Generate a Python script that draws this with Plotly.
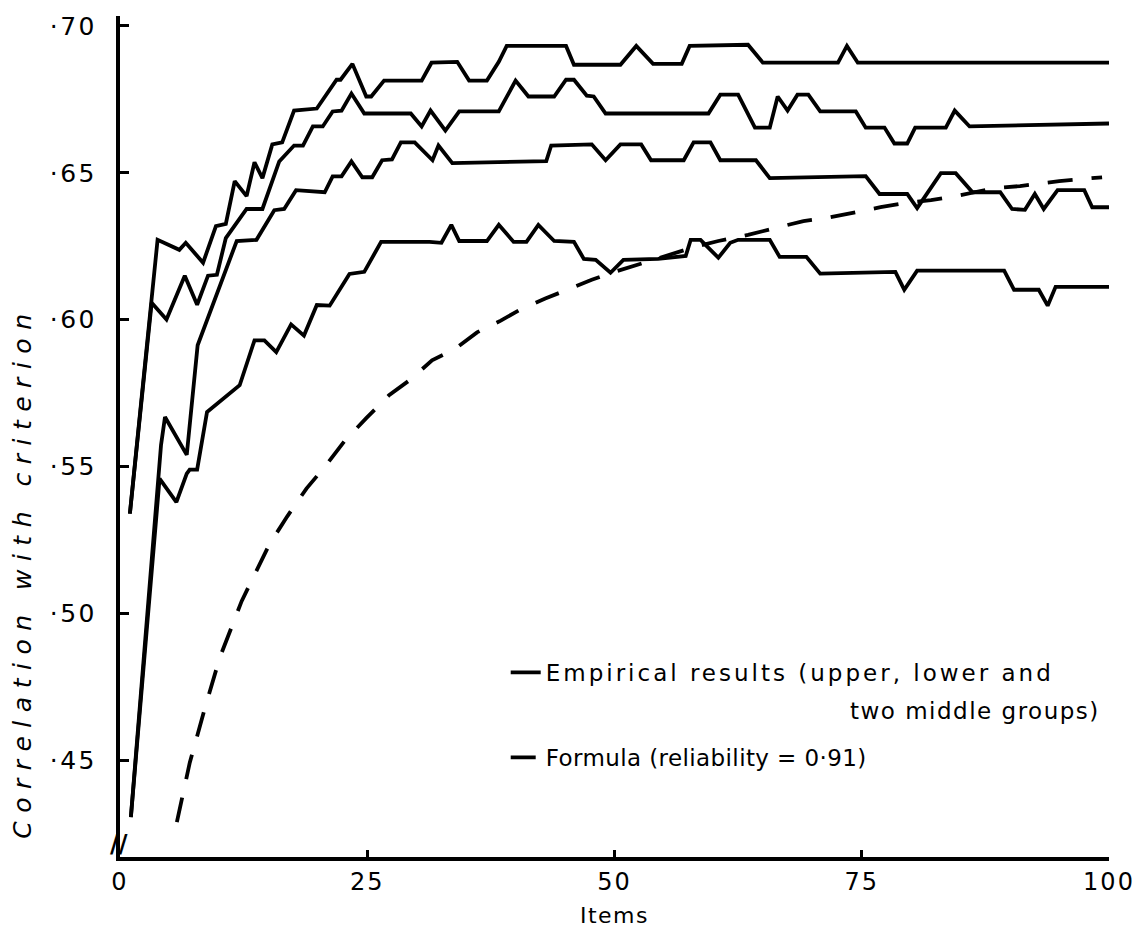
import plotly.graph_objects as go

# ---------------- data ----------------
upper_x = [1.0, 3.8, 6.0, 6.65, 8.4, 9.7, 10.7, 11.6, 12.8, 13.6, 14.4, 15.4, 16.4, 17.6, 19.9,
           21.9, 22.3, 23.5, 24.9, 25.4, 26.7, 30.5, 31.5, 34.1, 35.3, 37.1, 38.3, 39.1, 45.1,
           45.9, 50.6, 52.2, 53.9, 56.8, 57.6, 63.5, 65.0, 72.6, 73.5, 74.6, 100]
upper_y = [0.534, 0.6272, 0.6238, 0.6262, 0.6194, 0.6319, 0.6326, 0.6472, 0.6421, 0.6536, 0.6482,
           0.6597, 0.6604, 0.6712, 0.6719, 0.6817, 0.6817, 0.6871, 0.676, 0.676, 0.6814, 0.6814,
           0.6875, 0.6878, 0.6814, 0.6814, 0.6878, 0.6932, 0.6932, 0.6868, 0.6868, 0.6932, 0.6871,
           0.6871, 0.6932, 0.6936, 0.6875, 0.6875, 0.6932, 0.6875, 0.6875]

mid1_x = [1.0, 3.2, 4.7, 6.55, 7.8, 8.9, 9.8, 10.7, 12.8, 14.4, 16.1, 17.6, 18.5, 19.5, 20.5,
          21.5, 22.4, 23.4, 24.7, 29.4, 30.5, 31.4, 32.9, 34.3, 38.3, 40.0, 41.3, 43.9, 45.1,
          45.9, 47.2, 47.9, 49.1, 59.5, 60.7, 62.5, 64.2, 65.7, 66.5, 67.5, 68.5, 69.6, 70.8,
          74.4, 75.4, 77.3, 78.3, 79.6, 80.4, 83.5, 84.4, 85.9, 100]
mid1_y = [0.534, 0.6058, 0.6001, 0.615, 0.6051, 0.615, 0.6153, 0.6278, 0.6377, 0.6377, 0.6539,
          0.6593, 0.6593, 0.6658, 0.6658, 0.6709, 0.6712, 0.677, 0.6702, 0.6702, 0.6658, 0.6712,
          0.6644, 0.6709, 0.6709, 0.6814, 0.676, 0.676, 0.6817, 0.6817, 0.6763, 0.676, 0.6702,
          0.6702, 0.6766, 0.6766, 0.6654, 0.6654, 0.676, 0.6712, 0.6766, 0.6766, 0.6709, 0.6709,
          0.6654, 0.6654, 0.66, 0.66, 0.6654, 0.6654, 0.6712, 0.6658, 0.6668]

mid2_x = [1.1, 4.15, 4.55, 6.75, 7.85, 11.8, 13.8, 15.6, 16.6, 17.8, 20.7, 21.5, 22.4, 23.4,
          24.5, 25.5, 26.5, 27.5, 28.4, 29.8, 31.6, 32.2, 33.6, 43.1, 43.6, 47.7, 49.1, 50.6,
          52.7, 53.7, 57.0, 58.0, 59.7, 60.7, 64.3, 65.7, 75.4, 76.8, 79.6, 80.6, 83.0, 84.5,
          86.2, 89.0, 90.2, 91.5, 92.5, 93.4, 94.8, 97.5, 98.3, 100]
mid2_y = [0.4307, 0.5574, 0.5669, 0.554, 0.5913, 0.6268, 0.6272, 0.6373, 0.6377, 0.6441, 0.6434,
          0.6488, 0.6488, 0.6539, 0.6485, 0.6485, 0.6543, 0.6546, 0.6604, 0.6604, 0.6543, 0.6593,
          0.6533, 0.654, 0.6593, 0.6597, 0.6543, 0.6597, 0.6597, 0.6543, 0.6543, 0.6604, 0.6604,
          0.6543, 0.6543, 0.6482, 0.6489, 0.6428, 0.6428, 0.638, 0.6499, 0.6499, 0.6434, 0.6434,
          0.6377, 0.6374, 0.6428, 0.6377, 0.6441, 0.6441, 0.6383, 0.6383]

lower_x = [1.1, 4.0, 5.7, 6.75, 7.05, 7.8, 8.8, 11.6, 12.1, 13.6, 14.6, 15.8, 17.3, 18.6, 19.9,
           21.2, 23.2, 24.7, 26.4, 31.3, 32.5, 33.5, 34.3, 37.1, 38.3, 39.8, 41.1, 42.3, 43.9,
           45.9, 46.9, 48.1, 49.6, 50.9, 54.4, 57.2, 57.7, 58.7, 60.5, 61.7, 62.5, 65.7, 66.7,
           69.4, 70.8, 78.4, 79.3, 80.6, 89.4, 90.4, 92.9, 93.8, 94.6, 100]
lower_y = [0.4307, 0.5459, 0.5379, 0.5476, 0.549, 0.549, 0.5686, 0.5764, 0.5777, 0.593, 0.593,
           0.589, 0.5984, 0.5946, 0.605, 0.6048, 0.6156, 0.6163, 0.6265, 0.6265, 0.6262, 0.6323,
           0.6268, 0.6268, 0.6323, 0.6265, 0.6265, 0.6323, 0.6268, 0.6265, 0.6207, 0.6204, 0.616,
           0.6204, 0.6207, 0.6217, 0.6272, 0.6272, 0.6211, 0.6262, 0.6272, 0.6272, 0.6214, 0.6214,
           0.6157, 0.6163, 0.6102, 0.6167, 0.6167, 0.6102, 0.6102, 0.6048, 0.6112, 0.6112]

formula_x = [5.75, 7.06, 8.57, 10.08, 12.3, 15.1, 16.9, 18.85, 20.87, 22.7, 24.9, 27.2, 29.4,
             31.55, 33.8, 36.1, 38.5, 40.5, 43.0, 45.1, 47.7, 49.7, 52.4, 54.6, 57.8, 60.5, 63.5,
             65.8, 69.1, 71.4, 74.3, 76.9, 79.3, 82.0, 84.5, 88.4, 91.0, 94.96, 99.3]
formula_y = [0.429, 0.4493, 0.4676, 0.4849, 0.5042, 0.5235, 0.533, 0.5425, 0.5506, 0.5587, 0.5665,
             0.5743, 0.5797, 0.5862, 0.5899, 0.5957, 0.5997, 0.6035, 0.6072, 0.6102, 0.6136, 0.616,
             0.6187, 0.6211, 0.6245, 0.6268, 0.6289, 0.6309, 0.6336, 0.6346, 0.6367, 0.6383, 0.6397,
             0.6407, 0.6421, 0.6448, 0.6455, 0.6472, 0.6485]

x_ticks = [0, 25, 50, 75, 100]
x_tick_labels = ["0", "25", "50", "75", "100"]
y_ticks = [0.45, 0.50, 0.55, 0.60, 0.65, 0.70]
y_tick_labels = ["·45", "·50", "·55", "·60", "·65", "·70"]

legend_empirical = "Empirical results (upper, lower and"
legend_empirical_2 = "two middle groups)"
legend_formula = "Formula (reliability = 0·91)"
x_title = "Items"
y_title = "Correlation with criterion"


def spaced(text, px):
    """Wrap text in a span with extra letter spacing (text itself unchanged)."""
    return f'<span style="letter-spacing:{px}px">{text}</span>'


# ---------------- figure ----------------
FONT = "DejaVu Sans"
W = 3.8
fig = go.Figure()

empirical = [(upper_x, upper_y), (mid1_x, mid1_y), (mid2_x, mid2_y), (lower_x, lower_y)]
for i, (xs, ys) in enumerate(empirical):
    fig.add_trace(go.Scatter(
        x=xs, y=ys, mode="lines",
        line=dict(color="black", width=W),
        name=spaced(legend_empirical, 3), legendgroup="emp",
        showlegend=(i == 0),
    ))

fig.add_trace(go.Scatter(
    x=formula_x, y=formula_y, mode="lines",
    line=dict(color="black", width=W, dash="25px,19px"),
    name=spaced(legend_formula, 0.4), legendgroup="formula",
))

fig.update_layout(
    width=1147, height=950,
    margin=dict(l=120, r=34, t=13, b=93),
    paper_bgcolor="white", plot_bgcolor="white",
    font=dict(family=FONT, size=22, color="black"),
    legend=dict(
        x=0.39, y=0.245, xanchor="left", yanchor="top",
        bgcolor="rgba(0,0,0,0)", traceorder="grouped", tracegroupgap=52,
        valign="top", font=dict(family=FONT, size=23),
    ),
    xaxis=dict(
        range=[0, 100], showgrid=False, zeroline=False,
        showline=True, linecolor="black", linewidth=4,
        ticks="inside", ticklen=7, tickwidth=3, tickcolor="black",
        tickvals=x_ticks, ticktext=[spaced(t, 2) for t in x_tick_labels],
        tickfont=dict(family=FONT, size=24),
        title=dict(text=spaced(x_title, 1.5), font=dict(family=FONT, size=22), standoff=14),
    ),
    yaxis=dict(
        range=[0.4171, 0.7034], showgrid=False, zeroline=False,
        showline=True, linecolor="black", linewidth=4,
        ticks="inside", ticklen=9, tickwidth=3, tickcolor="black",
        tickvals=y_ticks, ticktext=[spaced(t, 2.5) for t in y_tick_labels],
        tickfont=dict(family=FONT, size=25), ticklabelstandoff=14,
    ),
)

fig.add_annotation(
    text=spaced(y_title, 8.5), textangle=-90,
    xref="paper", yref="paper", x=-0.098, y=0.338, xanchor="center", yanchor="middle",
    showarrow=False, font=dict(family=FONT, size=25, style="italic"),
)
fig.add_annotation(
    text=spaced(legend_empirical_2, 1.5), xref="paper", yref="paper", x=0.993, y=0.174,
    xanchor="right", yanchor="middle", showarrow=False, font=dict(family=FONT, size=23),
)
fig.add_annotation(
    text="<b>//</b>", xref="paper", yref="paper", x=-0.001, y=0.016,
    xanchor="center", yanchor="middle", showarrow=False, font=dict(family=FONT, size=24),
)

fig.write_html("out.html")
